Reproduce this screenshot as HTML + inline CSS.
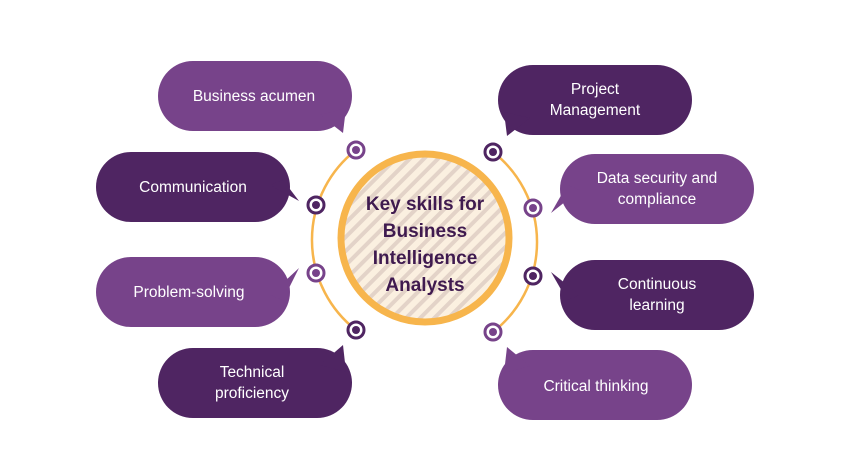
<!DOCTYPE html>
<html><head><style>
html,body{margin:0;padding:0;background:#fff;}
svg{display:block;}
text{font-family:"Liberation Sans",sans-serif;}
</style></head><body>
<svg width="850" height="450" viewBox="0 0 850 450" xmlns="http://www.w3.org/2000/svg">
<defs>
<pattern id="st" patternUnits="userSpaceOnUse" width="10" height="10" patternTransform="rotate(45)">
<rect width="10" height="10" fill="#fbf0e0"/>
<rect width="4" height="10" fill="#e3d3c8"/>
</pattern>
</defs>
<!-- arcs -->
<path d="M356,150 A114,114 0 0 0 356,330" fill="none" stroke="#f7b54c" stroke-width="2.5"/>
<path d="M493,152 A114,114 0 0 1 493,332" fill="none" stroke="#f7b54c" stroke-width="2.5"/>
<!-- center -->
<circle cx="425" cy="238" r="84" fill="url(#st)" stroke="#f7b54c" stroke-width="7"/>
<g fill="#3f1a4f" font-weight="bold" font-size="19" text-anchor="middle">
<text x="425" y="210">Key skills for</text>
<text x="425" y="237">Business</text>
<text x="425" y="264">Intelligence</text>
<text x="425" y="291">Analysts</text>
</g>
<!-- bubbles left -->
<g fill="#77438a"><rect x="158" y="61" width="194" height="70" rx="35"/><polygon points="320,115 346,108 343,133"/></g>
<g fill="#4f2562"><rect x="96" y="152" width="194" height="70" rx="35"/><polygon points="270,185 283,180 299,201"/></g>
<g fill="#77438a"><rect x="96" y="257" width="194" height="70" rx="35"/><polygon points="270,295 283,300 299,268"/></g>
<g fill="#4f2562"><rect x="158" y="348" width="194" height="70" rx="35"/><polygon points="320,365 346,372 343,345"/></g>
<!-- bubbles right -->
<g fill="#4f2562"><rect x="498" y="65" width="194" height="70" rx="35"/><polygon points="530,118 504,112 507,136"/></g>
<g fill="#77438a"><rect x="560" y="154" width="194" height="70" rx="35"/><polygon points="580,190 567,185 551,213"/></g>
<g fill="#4f2562"><rect x="560" y="260" width="194" height="70" rx="35"/><polygon points="580,295 567,300 551,272"/></g>
<g fill="#77438a"><rect x="498" y="350" width="194" height="70" rx="35"/><polygon points="530,366 504,373 507,347"/></g>
<g fill="#fff" font-size="15.5" text-anchor="middle">
<text x="254" y="101">Business acumen</text>
<text x="193" y="192">Communication</text>
<text x="189" y="297">Problem-solving</text>
<text x="252" y="377">Technical</text><text x="252" y="398">proficiency</text>
<text x="595" y="94">Project</text><text x="595" y="115">Management</text>
<text x="657" y="183">Data security and</text><text x="657" y="204">compliance</text>
<text x="657" y="289">Continuous</text><text x="657" y="310">learning</text>
<text x="596" y="391">Critical thinking</text>
</g>
<!-- dots -->
<g stroke-width="3" fill="#fff">
<circle cx="356" cy="150" r="8" stroke="#77438a"/>
<circle cx="316" cy="205" r="8" stroke="#4f2562"/>
<circle cx="316" cy="273" r="8" stroke="#77438a"/>
<circle cx="356" cy="330" r="8" stroke="#4f2562"/>
<circle cx="493" cy="152" r="8" stroke="#4f2562"/>
<circle cx="533" cy="208" r="8" stroke="#77438a"/>
<circle cx="533" cy="276" r="8" stroke="#4f2562"/>
<circle cx="493" cy="332" r="8" stroke="#77438a"/>
</g>
<circle cx="356" cy="150" r="4" fill="#77438a"/>
<circle cx="316" cy="205" r="4" fill="#4f2562"/>
<circle cx="316" cy="273" r="4" fill="#77438a"/>
<circle cx="356" cy="330" r="4" fill="#4f2562"/>
<circle cx="493" cy="152" r="4" fill="#4f2562"/>
<circle cx="533" cy="208" r="4" fill="#77438a"/>
<circle cx="533" cy="276" r="4" fill="#4f2562"/>
<circle cx="493" cy="332" r="4" fill="#77438a"/>
</svg>
</body></html>
